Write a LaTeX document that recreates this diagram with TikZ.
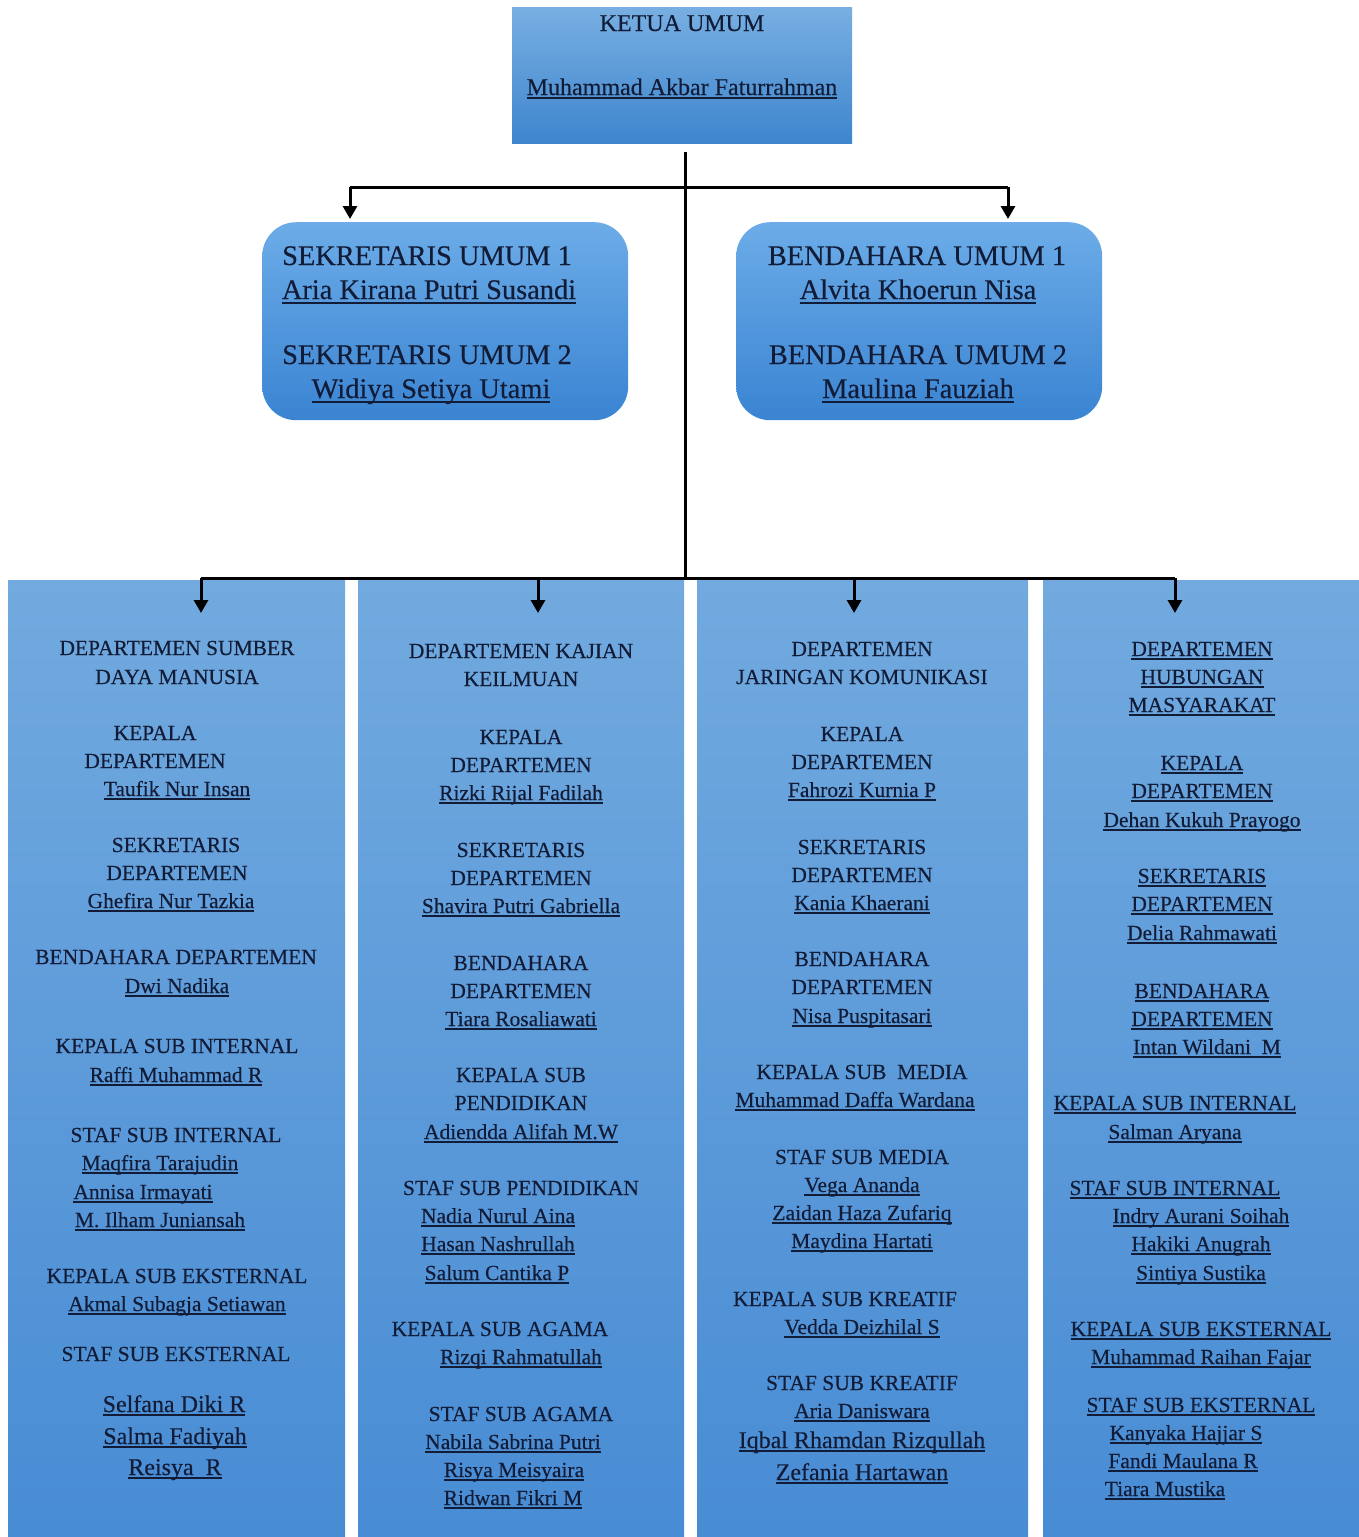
\documentclass[tikz,border=0pt]{standalone}
\usepackage{fontspec}
\setmainfont{Liberation Serif}[FakeBold=0.35]
\usetikzlibrary{arrows.meta}
\definecolor{textc}{RGB}{18,28,55}
\definecolor{coltop}{RGB}{114,170,223}
\definecolor{colbot}{RGB}{72,140,212}
\definecolor{ktop}{RGB}{120,175,226}
\definecolor{kbot}{RGB}{62,133,205}
\definecolor{rtop}{RGB}{108,172,232}
\definecolor{rbot}{RGB}{58,132,210}
\newcommand\ul[1]{\setbox0\hbox{#1}\rlap{\vrule width\wd0 height -0.1em depth 0.17em}\box0}
\newcommand\fmth[1]{#1}
\newcommand\fmtu[1]{\ul{#1}}
\newcommand\fmtU[1]{\fontsize{24}{28}\selectfont\ul{#1}}
\tikzset{
  txt/.style={inner sep=0pt, anchor=base, text=textc, font=\fontsize{21.5}{26}\selectfont},
  bigtxt/.style={txt, font=\fontsize{24}{28}\selectfont},
  hugetxt/.style={txt, font=\fontsize{28.4}{32}\selectfont},
  colbox/.style={rectangle, inner sep=0pt, anchor=north west, top color=coltop, bottom color=colbot, draw=none},
  topbox/.style={rectangle, inner sep=0pt, anchor=north west, top color=ktop, bottom color=kbot, draw=none},
  roundbox/.style={rectangle, rounded corners=34pt, inner sep=0pt, anchor=north west, top color=rtop, bottom color=rbot, draw=none},
  conn/.style={line width=3pt, black},
  arr/.style={conn, -{Triangle[length=13pt,width=14pt]}}
}
\begin{document}
\begin{tikzpicture}[x=1pt,y=-1pt]
\useasboundingbox (0,0) rectangle (1359,1537);
\fill[white] (0,0) rectangle (1359,1537);
% boxes
\node[topbox, minimum width=340pt, minimum height=136pt] (ketua) at (512,7) {};
\node[roundbox, minimum width=366pt, minimum height=198pt] (sek) at (262,222) {};
\node[roundbox, minimum width=366pt, minimum height=198pt] (bend) at (736,222) {};
\node[colbox, minimum width=337pt, minimum height=957pt] (col1) at (8,580) {};
\node[colbox, minimum width=326pt, minimum height=957pt] (col2) at (358,580) {};
\node[colbox, minimum width=331pt, minimum height=957pt] (col3) at (697,580) {};
\node[colbox, minimum width=316pt, minimum height=957pt] (col4) at (1043,580) {};
% connectors
\coordinate (j1) at (685,187);
\coordinate (j2) at (685,578);
\coordinate (a1) at (350,187);
\coordinate (a2) at (1008,187);
\coordinate (d1) at (201,578);
\coordinate (d2) at (538,578);
\coordinate (d3) at (854,578);
\coordinate (d4) at (1175,578);
\coordinate (e1) at (201,613);
\coordinate (e2) at (538,613);
\coordinate (e3) at (854,613);
\coordinate (e4) at (1175,613);
\draw[conn] ([yshift=-9pt]ketua.south -| j2) -- (j2);
\draw[conn] (a1) -- (a2);
\draw[arr, shorten >=3pt] (a1) -- (a1 |- sek.north);
\draw[arr, shorten >=3pt] (a2) -- (a2 |- bend.north);
\draw[conn] (d1) -- (d4);
\draw[arr] (d1) -- (e1);
\draw[arr] (d2) -- (e2);
\draw[arr] (d3) -- (e3);
\draw[arr] (d4) -- (e4);
% top texts
\node[bigtxt] (k1) at (682,31) {KETUA UMUM};
\node[bigtxt] (k2) at (682,95) {\ul{Muhammad Akbar Faturrahman}};
\node[hugetxt] (s1) at (427,265) {SEKRETARIS UMUM 1};
\node[hugetxt] (s2) at (429,299) {\ul{Aria Kirana Putri Susandi}};
\node[hugetxt] (s3) at (427,364) {SEKRETARIS UMUM 2};
\node[hugetxt] (s4) at (431,398) {\ul{Widiya Setiya Utami}};
\node[hugetxt] (b1) at (917,265) {BENDAHARA UMUM 1};
\node[hugetxt] (b2) at (918,299) {\ul{Alvita Khoerun Nisa}};
\node[hugetxt] (b3) at (918,364) {BENDAHARA UMUM 2};
\node[hugetxt] (b4) at (918,398) {\ul{Maulina Fauziah}};
% column 1
\foreach \px/\py/\st/\tx [count=\i] in {
177/648/h/{DEPARTEMEN SUMBER},
177/677/h/{DAYA MANUSIA},
155/733/h/{KEPALA},
155/761/h/{DEPARTEMEN},
177/789/u/{Taufik Nur Insan},
176/845/h/{SEKRETARIS},
177/873/h/{DEPARTEMEN},
171/901/u/{Ghefira Nur Tazkia},
176/957/h/{BENDAHARA DEPARTEMEN},
177/986/u/{Dwi Nadika},
177/1046/h/{KEPALA SUB INTERNAL},
176/1075/u/{Raffi Muhammad R},
176/1135/h/{STAF SUB INTERNAL},
160/1163/u/{Maqfira Tarajudin},
143/1192/u/{Annisa Irmayati},
160/1220/u/{M. Ilham Juniansah},
177/1276/h/{KEPALA SUB EKSTERNAL},
177/1304/u/{Akmal Subagja Setiawan},
176/1354/h/{STAF SUB EKSTERNAL},
174/1405/U/{Selfana Diki R},
175/1437/U/{Salma Fadiyah},
175/1468/U/{Reisya\ \ R}}
{\node[txt] (c1-\i) at (\px,{\py+7}) {\csname fmt\st\endcsname{\tx}};}
% column 2
\foreach \px/\py/\st/\tx [count=\i] in {
521/651/h/{DEPARTEMEN KAJIAN},
521/679/h/{KEILMUAN},
521/737/h/{KEPALA},
521/765/h/{DEPARTEMEN},
521/793/u/{Rizki Rijal Fadilah},
521/850/h/{SEKRETARIS},
521/878/h/{DEPARTEMEN},
521/906/u/{Shavira Putri Gabriella},
521/963/h/{BENDAHARA},
521/991/h/{DEPARTEMEN},
521/1019/u/{Tiara Rosaliawati},
521/1075/h/{KEPALA SUB},
521/1103/h/{PENDIDIKAN},
521/1132/u/{Adiendda Alifah M.W},
521/1188/h/{STAF SUB PENDIDIKAN},
498/1216/u/{Nadia Nurul Aina},
498/1244/u/{Hasan Nashrullah},
497/1273/u/{Salum Cantika P},
500/1329/h/{KEPALA SUB AGAMA},
521/1357/u/{Rizqi Rahmatullah},
521/1414/h/{STAF SUB AGAMA},
513/1442/u/{Nabila Sabrina Putri},
514/1470/u/{Risya Meisyaira},
513/1498/u/{Ridwan Fikri M}}
{\node[txt] (c2-\i) at (\px,{\py+7}) {\csname fmt\st\endcsname{\tx}};}
% column 3
\foreach \px/\py/\st/\tx [count=\i] in {
862/649/h/{DEPARTEMEN},
862/677/h/{JARINGAN KOMUNIKASI},
862/734/h/{KEPALA},
862/762/h/{DEPARTEMEN},
862/790/u/{Fahrozi Kurnia P},
862/847/h/{SEKRETARIS},
862/875/h/{DEPARTEMEN},
862/903/u/{Kania Khaerani},
862/959/h/{BENDAHARA},
862/987/h/{DEPARTEMEN},
862/1016/u/{Nisa Puspitasari},
862/1072/h/{KEPALA SUB\ \ MEDIA},
855/1100/u/{Muhammad Daffa Wardana},
862/1157/h/{STAF SUB MEDIA},
862/1185/u/{Vega Ananda},
862/1213/u/{Zaidan Haza Zufariq},
862/1241/u/{Maydina Hartati},
845/1299/h/{KEPALA SUB KREATIF},
862/1327/u/{Vedda Deizhilal S},
862/1383/h/{STAF SUB KREATIF},
862/1411/u/{Aria Daniswara},
862/1441/U/{Iqbal Rhamdan Rizqullah},
862/1473/U/{Zefania Hartawan}}
{\node[txt] (c3-\i) at (\px,{\py+7}) {\csname fmt\st\endcsname{\tx}};}
% column 4
\foreach \px/\py/\st/\tx [count=\i] in {
1202/649/u/{DEPARTEMEN},
1202/677/u/{HUBUNGAN},
1202/705/u/{MASYARAKAT},
1202/763/u/{KEPALA},
1202/791/u/{DEPARTEMEN},
1202/820/u/{Dehan Kukuh Prayogo},
1202/876/u/{SEKRETARIS},
1202/904/u/{DEPARTEMEN},
1202/933/u/{Delia Rahmawati},
1202/991/u/{BENDAHARA},
1202/1019/u/{DEPARTEMEN},
1207/1047/u/{Intan Wildani\ \ M},
1175/1103/u/{KEPALA SUB INTERNAL},
1175/1132/u/{Salman Aryana},
1175/1188/u/{STAF SUB INTERNAL},
1201/1216/u/{Indry Aurani Soihah},
1201/1244/u/{Hakiki Anugrah},
1201/1273/u/{Sintiya Sustika},
1201/1329/u/{KEPALA SUB EKSTERNAL},
1201/1357/u/{Muhammad Raihan Fajar},
1201/1405/u/{STAF SUB EKSTERNAL},
1186/1433/u/{Kanyaka Hajjar S},
1183/1461/u/{Fandi Maulana R},
1165/1489/u/{Tiara Mustika}}
{\node[txt] (c4-\i) at (\px,{\py+7}) {\csname fmt\st\endcsname{\tx}};}
\end{tikzpicture}
\end{document}
